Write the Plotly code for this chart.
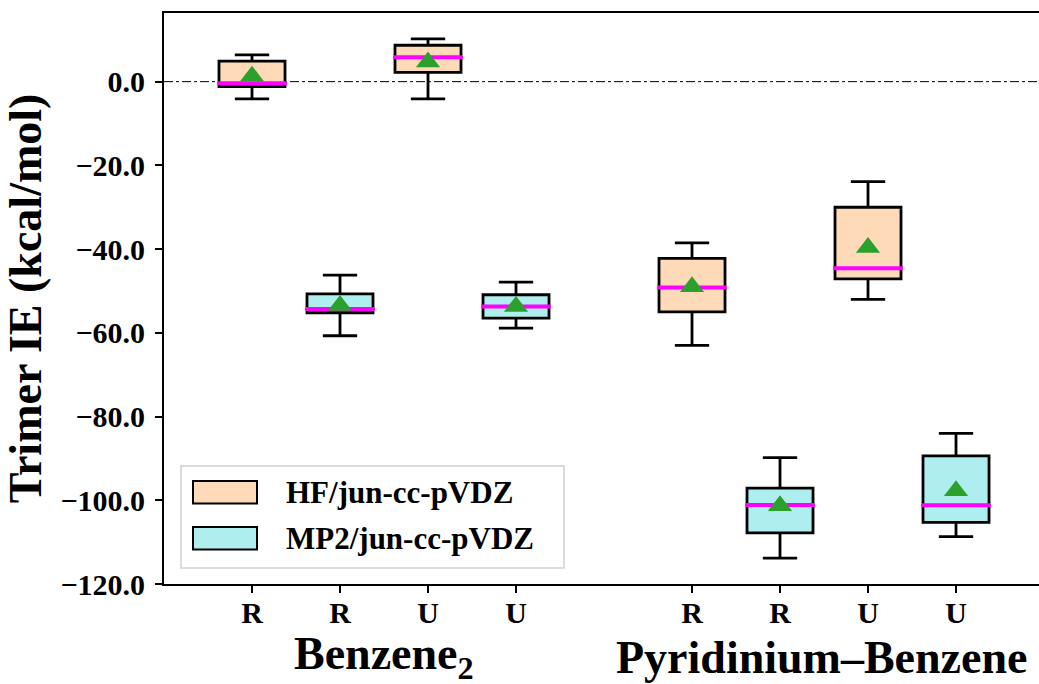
import plotly.graph_objects as go

# ---- data ----
tick_positions = [1, 2, 3, 4, 6, 7, 8, 9]
tick_labels = ["R", "R", "U", "U", "R", "R", "U", "U"]
group_labels = ["Benzene<sub>2</sub>", "Pyridinium\u2013Benzene"]
group_centers = [2.5, 7.47]

hf_pos = [1, 3, 6, 8]
hf_upper = [6.4, 10.2, -38.5, -23.9]
hf_q3 = [4.9, 8.7, -42.2, -30.0]
hf_median = [-0.4, 5.8, -49.2, -44.6]
hf_q1 = [-1.2, 2.2, -55.0, -47.1]
hf_lower = [-4.1, -4.1, -63.0, -52.0]
hf_mean = [1.3, 4.7, -49.0, -39.6]

mp2_pos = [2, 4, 7, 9]
mp2_upper = [-46.2, -47.9, -89.8, -84.0]
mp2_q3 = [-50.7, -50.9, -97.1, -89.4]
mp2_median = [-54.3, -53.7, -101.1, -101.2]
mp2_q1 = [-55.2, -56.5, -107.8, -105.3]
mp2_lower = [-60.7, -58.9, -113.8, -108.7]
mp2_mean = [-53.5, -53.7, -101.3, -97.7]

series = [
    ("HF/jun-cc-pVDZ", "#FFDAB9", hf_pos, hf_lower, hf_q1, hf_median, hf_q3, hf_upper, hf_mean),
    ("MP2/jun-cc-pVDZ", "#AFEEEE", mp2_pos, mp2_lower, mp2_q1, mp2_median, mp2_q3, mp2_upper, mp2_mean),
]

FONT = "Liberation Serif"
BOX_W = 0.75

fig = go.Figure()
for name, color, pos, lo, q1, med, q3, up, mean in series:
    fig.add_trace(go.Box(
        name=name, x=pos, lowerfence=lo, q1=q1, median=med, q3=q3, upperfence=up,
        width=BOX_W, whiskerwidth=0.52, fillcolor=color,
        line=dict(color="black", width=2.8), boxpoints=False, showlegend=False,
        hoverinfo="skip",
    ))
for name, color, pos, lo, q1, med, q3, up, mean in series:
    mx, my = [], []
    for p, m in zip(pos, med):
        mx += [p - BOX_W / 2 - 0.02, p + BOX_W / 2 + 0.02, None]
        my += [m, m, None]
    fig.add_trace(go.Scatter(x=mx, y=my, mode="lines",
                             line=dict(color="#FF00FF", width=4),
                             showlegend=False, hoverinfo="skip"))
    fig.add_trace(go.Scatter(x=pos, y=mean, mode="markers",
                             marker=dict(symbol="triangle-up", size=21, color="#2ca02c"),
                             showlegend=False, hoverinfo="skip"))

# zero reference line
fig.add_shape(type="line", xref="paper", yref="y", x0=0, x1=1, y0=0, y1=0,
              line=dict(color="black", width=1, dash="dashdot"), layer="below")

# group labels
for txt, cx in zip(group_labels, group_centers):
    fig.add_annotation(x=cx, xref="x", y=-0.128, yref="paper", text=txt,
                       showarrow=False, yanchor="middle", borderpad=0,
                       font=dict(family=FONT, size=46, color="black", weight="bold"))

# manual legend (matplotlib style)
W, H, L, B = 875.0, 571.0, 164.0, 584.0
def px(x): return (x - L) / W
def py(y): return (B - y) / H
fig.add_shape(type="rect", xref="paper", yref="paper",
              x0=px(181), x1=px(564), y0=py(568), y1=py(466),
              line=dict(color="#d0d0d0", width=1.5), fillcolor="rgba(255,255,255,0.8)")
for i, (name, color, *_rest) in enumerate(series):
    top = 481 + i * 46
    fig.add_shape(type="rect", xref="paper", yref="paper",
                  x0=px(193), x1=px(257), y0=py(top + 22.5), y1=py(top),
                  line=dict(color="black", width=2), fillcolor=color)
    fig.add_annotation(x=px(284), xref="paper", y=py(top + 11.5), yref="paper",
                       text=name, showarrow=False, xanchor="left", yanchor="middle",
                       font=dict(family=FONT, size=31, color="black", weight="bold"))

fig.update_layout(
    width=1039, height=684,
    margin=dict(l=164, r=0, t=13, b=100),
    plot_bgcolor="white", paper_bgcolor="white",
    boxmode="overlay",
    font=dict(family=FONT, color="black", weight="bold"),
)
fig.update_xaxes(range=[0, 9.943], tickvals=tick_positions, ticktext=tick_labels,
                 showline=True, linecolor="black", linewidth=2, mirror=True,
                 ticks="outside", ticklen=7, tickwidth=1.5, tickcolor="black",
                 showgrid=False, zeroline=False, ticklabelstandoff=-6,
                 tickfont=dict(family=FONT, size=30, color="black", weight="bold"))
fig.update_yaxes(range=[-120, 16.4], tickvals=[0, -20, -40, -60, -80, -100, -120],
                 tickformat=".1f",
                 showline=True, linecolor="black", linewidth=2, mirror=False,
                 ticks="outside", ticklen=7, tickwidth=1.5, tickcolor="black",
                 showgrid=False, zeroline=False, ticklabelstandoff=4,
                 tickfont=dict(family=FONT, size=30, color="black", weight="bold"),
                 title=dict(text="Trimer IE (kcal/mol)", standoff=12,
                            font=dict(family=FONT, size=46, color="black", weight="bold")))

fig.write_html("out.html")
